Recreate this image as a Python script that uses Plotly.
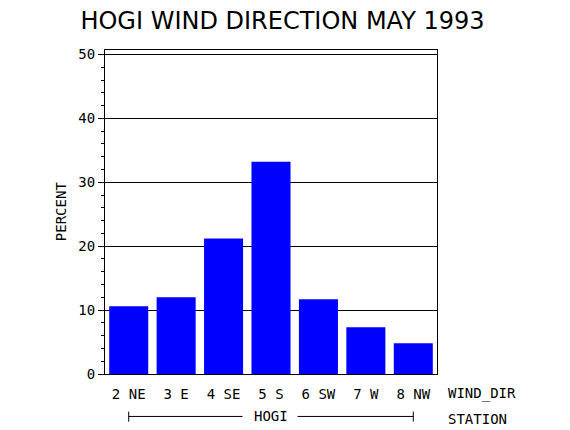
import plotly.graph_objects as go

wind_dir = ['2 NE', '3 E', '4 SE', '5 S', '6 SW', '7 W', '8 NW']
percent = [10.6, 12.0, 21.2, 33.2, 11.7, 7.3, 4.8]
y_ticks = [0, 10, 20, 30, 40, 50]
station = 'HOGI'

mono = 'DejaVu Sans Mono'

fig = go.Figure()
fig.add_trace(go.Bar(x=wind_dir, y=percent, marker=dict(color='#0000FF', line_width=0)))

# the page body adds an 8px margin, so the figure is a bit smaller than the window
fig.update_layout(
    width=562, height=422,
    margin=dict(l=97, r=133, t=42, b=56),
    paper_bgcolor='white', plot_bgcolor='white',
    bargap=0.177, showlegend=False,
    font=dict(family=mono, size=14, color='black'),
    title=dict(text='HOGI WIND DIRECTION MAY 1993', xref='container', yref='container',
               x=0.4884, y=0.9704, xanchor='center', yanchor='middle',
               font=dict(family='DejaVu Sans', size=24, color='black')),
)
fig.update_xaxes(type='category', range=[-0.5, 6.5], showline=True, mirror=True,
                 linecolor='black', linewidth=1, ticks='', showgrid=False,
                 ticklabelstandoff=7, tickfont=dict(family=mono, size=14))
fig.update_yaxes(range=[0, 50.7], tickvals=y_ticks, ticktext=[str(v) for v in y_ticks],
                 showline=True, mirror=True, linecolor='black', linewidth=1,
                 ticks='outside', ticklen=6, tickcolor='black',
                 showgrid=True, gridcolor='black', gridwidth=1, zeroline=False,
                 minor=dict(dtick=2, ticks='outside', ticklen=3, tickcolor='black', showgrid=False),
                 ticklabelstandoff=0, tickfont=dict(family=mono, size=14))

# y axis title
fig.add_annotation(text='PERCENT', xref='paper', yref='paper', x=-0.13, y=0.502,
                   textangle=-90, showarrow=False, xanchor='center', yanchor='middle')
# right-hand axis labels
fig.add_annotation(text='WIND_DIR', xref='paper', yref='paper', x=1.026, y=-0.061,
                   showarrow=False, xanchor='left', yanchor='middle')
fig.add_annotation(text='STATION', xref='paper', yref='paper', x=1.026, y=-0.138,
                   showarrow=False, xanchor='left', yanchor='middle')

# station bracket, broken around the station name
ly = -0.131
last = len(wind_dir) - 1
mid = last / 2
for x0, x1 in [(0, mid - 0.6), (mid + 0.56, last)]:
    fig.add_shape(type='line', xref='x', yref='paper', x0=x0, x1=x1, y0=ly, y1=ly,
                  line=dict(color='black', width=1))
for xi in [0, last]:
    fig.add_shape(type='line', xref='x', yref='paper', x0=xi, x1=xi, y0=ly + 0.015, y1=ly - 0.016,
                  line=dict(color='black', width=1))
fig.add_annotation(text=station, xref='x', yref='paper', x=mid, y=ly,
                   showarrow=False, xanchor='center', yanchor='middle')

fig.write_html("out.html")
